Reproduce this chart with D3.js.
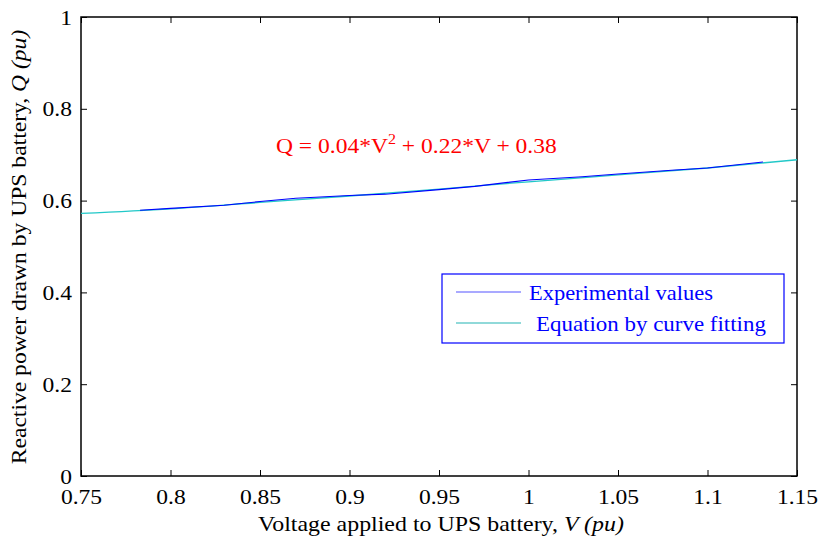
<!DOCTYPE html>
<html><head><meta charset="utf-8">
<script src="https://cdn.jsdelivr.net/npm/d3@7"></script>
<style>body{margin:0;background:#fff}svg{display:block}text{font-family:"Liberation Serif","Times New Roman",serif}</style>
</head><body>
<script>
const expV = [0.783, 0.80, 0.83, 0.85, 0.87, 0.90, 0.92, 0.95, 0.97, 1.00, 1.03, 1.05, 1.08, 1.10, 1.131];
const expQ = [0.579, 0.583, 0.590, 0.598, 0.605, 0.611, 0.614, 0.624, 0.631, 0.645, 0.652, 0.658, 0.666, 0.671, 0.684];
const fitV = [0.75, 0.80, 0.85, 0.90, 0.95, 1.00, 1.05, 1.10, 1.15];
const fitQ = [0.572, 0.582, 0.596, 0.610, 0.625, 0.641, 0.656, 0.671, 0.689];
const xTicks = [0.75, 0.8, 0.85, 0.9, 0.95, 1, 1.05, 1.1, 1.15];
const yTicks = [0, 0.2, 0.4, 0.6, 0.8, 1];

const W = 822, H = 542;
const m = {l: 81, r: 25, t: 17, b: 66};
const svg = d3.select("body").append("svg").attr("width", W).attr("height", H);
const x = d3.scaleLinear().domain([0.75, 1.15]).range([m.l, W - m.r]);
const y = d3.scaleLinear().domain([0, 1]).range([H - m.b, m.t]);
const SX = 1.07; // horizontal stretch of reference glyphs

// stretch a text element horizontally about its anchor point (x attr, y attr)
function stretch(el, s) {
  const t = d3.select(el);
  const ax = +t.attr("x") || 0, ay = +t.attr("y") || 0;
  t.attr("transform", `translate(${ax},${ay}) scale(${s},1) translate(${-ax},${-ay})`);
}
function fitWidth(el, target) {
  const w = el.getBBox().width;
  stretch(el, target / w);
}

// frame
svg.append("rect").attr("x", m.l).attr("y", m.t).attr("width", W - m.r - m.l).attr("height", H - m.b - m.t)
  .attr("fill", "none").attr("stroke", "#000").attr("stroke-width", 1.5);

const fmt = d => String(d);
const tl = 6;
const xb = svg.append("g").attr("transform", `translate(0,${H - m.b})`)
  .call(d3.axisBottom(x).tickValues(xTicks).tickFormat(fmt).tickSize(-tl).tickPadding(tl + 6));
const xt = svg.append("g").attr("transform", `translate(0,${m.t})`)
  .call(d3.axisTop(x).tickValues(xTicks).tickFormat("").tickSize(-tl));
const yl = svg.append("g").attr("transform", `translate(${m.l},0)`)
  .call(d3.axisLeft(y).tickValues(yTicks).tickFormat(fmt).tickSize(-tl).tickPadding(tl + 3));
const yr = svg.append("g").attr("transform", `translate(${W - m.r},0)`)
  .call(d3.axisRight(y).tickValues(yTicks).tickFormat("").tickSize(-tl));
[xb, xt, yl, yr].forEach(g => {
  g.attr("font-family", null).attr("font-size", null);
  g.select(".domain").remove();
  g.selectAll("line").attr("stroke", "#000").attr("stroke-width", 1);
  g.selectAll("text").style("font-family", '"Liberation Serif", serif').style("font-size", "22px").attr("fill", "#000")
    .each(function () { stretch(this, SX); });
});

// lines
const line = d3.line().x(d => x(d[0])).y(d => y(d[1]));
svg.append("path").datum(fitV.map((v, i) => [v, fitQ[i]]))
  .attr("d", line.curve(d3.curveMonotoneX)).attr("fill", "none").attr("stroke", "#22c8c8").attr("stroke-width", 1.3);
svg.append("path").datum(expV.map((v, i) => [v, expQ[i]]))
  .attr("d", d3.line().x(d => x(d[0])).y(d => y(d[1]))).attr("fill", "none").attr("stroke", "#0000ff").attr("stroke-width", 1.1);

// equation
const eq = svg.append("text").attr("x", 276).attr("y", 153).style("font-size", "22px").attr("fill", "#ff0000");
eq.append("tspan").text("Q = 0.04*V");
eq.append("tspan").style("font-size", "15px").attr("dy", -9).text("2");
eq.append("tspan").attr("dy", 9).text(" + 0.22*V + 0.38");
fitWidth(eq.node(), 281);

// legend
const lg = svg.append("g");
lg.append("rect").attr("x", 442).attr("y", 274).attr("width", 342).attr("height", 69)
  .attr("fill", "#fff").attr("stroke", "#0000ff").attr("stroke-width", 1.2);
const leg = [["Experimental values", "#5555ff", 292, 529, 184], ["Equation by curve fitting", "#22b4b4", 323, 536, 230]];
leg.forEach(([t, c, yy, tx, w]) => {
  lg.append("line").attr("x1", 456).attr("x2", 521).attr("y1", yy).attr("y2", yy).attr("stroke", c).attr("stroke-width", 1.2);
  const tt = lg.append("text").attr("x", tx).attr("y", yy + 8).style("font-size", "22px")
    .attr("fill", "#0000ff").text(t);
  fitWidth(tt.node(), w);
});

// axis labels
const xlab = svg.append("text").attr("x", 441).attr("y", 531).attr("text-anchor", "middle")
  .style("font-size", "21px").attr("fill", "#000");
xlab.append("tspan").text("Voltage applied to UPS battery, ");
xlab.append("tspan").style("font-style", "italic").text("V (pu)");
fitWidth(xlab.node(), 366);

const yg = svg.append("g").attr("transform", `translate(26,247) rotate(-90)`);
const ylab = yg.append("text").attr("x", 0).attr("y", 0).attr("text-anchor", "middle")
  .style("font-size", "20px").attr("fill", "#000");
ylab.append("tspan").text("Reactive power drawn by UPS battery, ");
ylab.append("tspan").style("font-style", "italic").text("Q (pu)");
fitWidth(ylab.node(), 435);
</script>
</body></html>
